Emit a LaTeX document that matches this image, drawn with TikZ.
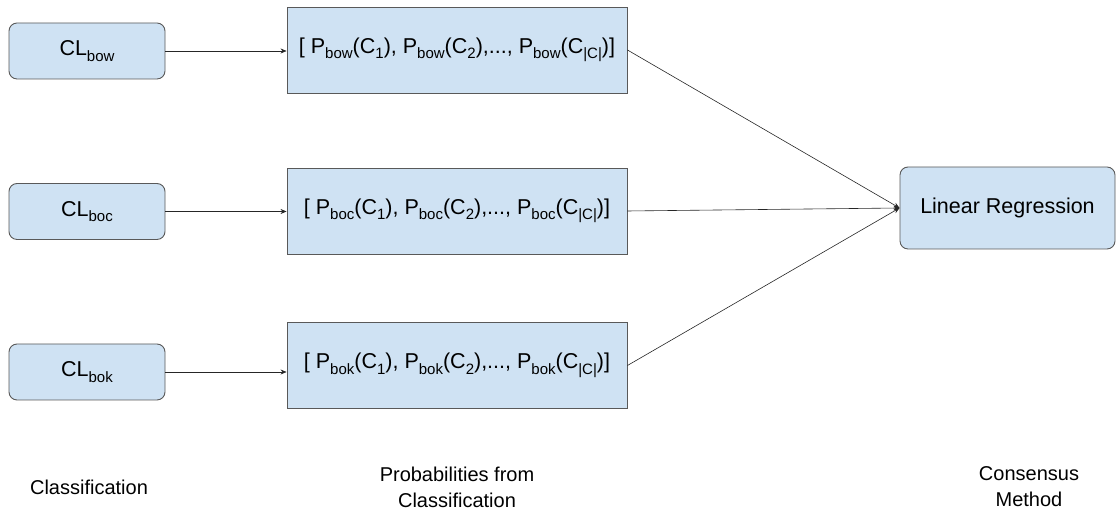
\documentclass[tikz,border=0pt]{standalone}
\usepackage{fontspec}
\setmainfont{Liberation Sans}
\usetikzlibrary{arrows.meta}
\definecolor{boxfill}{HTML}{CFE2F3}
\definecolor{boxdraw}{HTML}{595959}
\newcommand{\sbx}[1]{\raisebox{-5.5pt}{\fontsize{15}{15}\selectfont #1}}
\tikzset{
  box/.style={draw=boxdraw, fill=boxfill, line width=0.9pt, inner sep=0pt, align=center, font=\fontsize{21.5}{25}\selectfont},
  clbox/.style={box, rounded corners=8pt, minimum width=156pt, minimum height=56pt},
  pbox/.style={box, minimum width=340pt, minimum height=86pt},
  conn/.style={draw=black!85, line width=0.6pt, -{Stealth[length=6pt,width=5pt]}},
  lbl/.style={align=center, font=\fontsize{20}{26}\selectfont}
}
\begin{document}
\begin{tikzpicture}[x=1pt,y=1pt]
\useasboundingbox (0,0) rectangle (1117,513);
\node[clbox] (clbow) at (87,462) {CL\sbx{bow}};
\node[clbox] (clboc) at (87,301.5) {CL\sbx{boc}};
\node[clbox] (clbok) at (87,141) {CL\sbx{bok}};
\node[pbox] (pbow) at (457,463) {[ P\sbx{bow}(C\sbx{1}), P\sbx{bow}(C\sbx{2}),..., P\sbx{bow}(C\sbx{|C|})]};
\node[pbox] (pboc) at (457,302) {[ P\sbx{boc}(C\sbx{1}), P\sbx{boc}(C\sbx{2}),..., P\sbx{boc}(C\sbx{|C|})]};
\node[pbox] (pbok) at (457,147.5) {[ P\sbx{bok}(C\sbx{1}), P\sbx{bok}(C\sbx{2}),..., P\sbx{bok}(C\sbx{|C|})]};
\node[clbox, minimum width=215pt, minimum height=82pt] (lr) at (1007.5,305) {Linear Regression};
\draw[conn] (clbow.east) -- (clbow.east -| pbow.west);
\draw[conn] (clboc.east) -- (clboc.east -| pboc.west);
\draw[conn] (clbok.east) -- (clbok.east -| pbok.west);
\draw[conn] (pbow.east) -- (lr.west);
\draw[conn] (pboc.east) -- (lr.west);
\draw[conn] (pbok.east) -- (lr.west);
\node[lbl] (l1) at (89,26) {Classification};
\node[lbl] (l2) at (457,26) {Probabilities from\\Classification};
\node[lbl] (l3) at (1029,26) {Consensus\\Method};
\end{tikzpicture}
\end{document}
